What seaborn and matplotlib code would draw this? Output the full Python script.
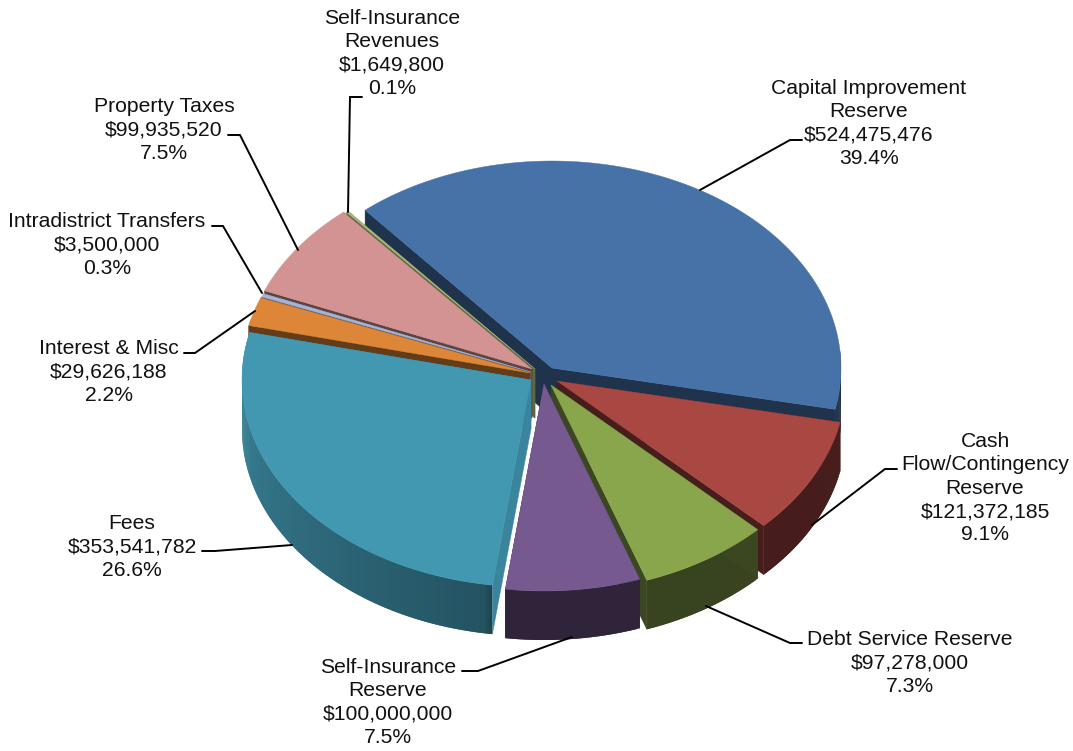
import numpy as np
import matplotlib
matplotlib.use("Agg")
import matplotlib.pyplot as plt
from matplotlib.patches import Polygon
import seaborn as sns

# data, clockwise from the top right slice
names = ["Capital Improvement\nReserve", "Cash\nFlow/Contingency\nReserve", "Debt Service Reserve",
         "Self-Insurance\nReserve", "Fees", "Interest & Misc", "Intradistrict Transfers",
         "Property Taxes", "Self-Insurance\nRevenues"]
amounts = [524475476, 121372185, 97278000, 100000000, 353541782, 29626188, 3500000, 99935520, 1649800]
percents = [39.4, 9.1, 7.3, 7.5, 26.6, 2.2, 0.3, 7.5, 0.1]

# colours of the top faces
top_colors = ["#4672A8", "#A94743", "#8AA64C", "#75598F", "#4297B1", "#DD8638", "#A5B4D4", "#D39393", "#A9BB7A"]

# layout, in pixels of the picture
start_angle = -40.3
rx, ry, depth = 289, 207, 49
apex_x = [552, 557, 551, 544, 531, 530, 531, 532, 535]
apex_y = [368, 381, 385, 384, 380, 373, 372, 369, 369]
cut_shade = [0.45, 0.42, 0.43, 0.40, 0.88, 0.45, 0.55, 0.45, 0.55]
draw_order = [0, 8, 7, 6, 5, 1, 2, 3, 4]
text_x = [869, 985, 910, 388, 132, 109, 107, 164, 392]
text_top = [79, 432, 630, 658, 514, 339, 212, 97, 9]
leaders = [[(700, 190), (790, 140), (802, 140)],
           [(812, 525), (885, 469), (897, 469)],
           [(706, 606), (790, 643), (802, 643)],
           [(572, 637), (478, 671), (462, 671)],
           [(292, 545), (215, 551), (202, 551)],
           [(255, 311), (195, 353), (184, 353)],
           [(262, 293), (223, 226), (212, 226)],
           [(298, 250), (240, 135), (228, 135)],
           [(348, 212), (350, 97), (362, 97)]]

sns.set_theme(style="white")
plt.rcParams['font.family'] = ['Liberation Sans', 'DejaVu Sans']
palette = sns.color_palette(top_colors)


def shade(color, k):
    return tuple(c * k for c in color)


def rim(cx, cy, theta):
    t = np.radians(theta)
    return cx + rx * np.sin(t), cy - ry * np.cos(t)


def wall_shade(theta):
    return np.interp(theta % 360, [90, 187, 189, 285], [0.42, 0.40, 0.55, 0.90])


fig = plt.figure(figsize=(10.73, 7.51), dpi=100)
ax = fig.add_axes([0, 0, 1, 1])
ax.set_xlim(0, 1073)
ax.set_ylim(751, 0)
ax.axis("off")

shares = np.array(amounts) / sum(amounts) * 360
edges = start_angle + np.concatenate([[0], np.cumsum(shares)])

z = 2
for i in draw_order:
    cx, cy = apex_x[i], apex_y[i]
    a0, a1 = edges[i], edges[i + 1]
    col = palette[i]
    cut = shade(col, cut_shade[i])

    # outer wall, only the front part shows; strips overlap so no seams
    w0, w1 = max(a0, 85), min(a1, 285)
    if w1 > w0:
        steps = np.linspace(w0, w1, max(3, int((w1 - w0) * 2)))
        for k in range(len(steps) - 1):
            s = np.linspace(steps[k], steps[min(k + 2, len(steps) - 1)], 4)
            x, y = rim(cx, cy, s)
            c = shade(col, wall_shade(steps[k]))
            pts = np.column_stack([np.r_[x, x[::-1]], np.r_[y, y[::-1] + depth]])
            ax.add_patch(Polygon(pts, fc=c, ec="none", zorder=z))
    # flat faces from the cuts
    for a in (a0, a1):
        x, y = rim(cx, cy, a)
        ax.add_patch(Polygon([(cx, cy), (x, y), (x, y + depth), (cx, cy + depth)],
                             fc=cut, ec=cut, lw=0.3, zorder=z + 0.2))
    # top face
    xs, ys = rim(cx, cy, np.linspace(a0, a1, 120))
    ax.add_patch(Polygon(np.column_stack([np.r_[cx, xs], np.r_[cy, ys]]),
                         fc=col, ec=col, lw=0.3, zorder=z + 0.5))
    z += 1

for pts in leaders:
    ax.plot(*zip(*pts), color="black", lw=1.4, zorder=50, solid_joinstyle="miter")

for name, amount, pct, x, y in zip(names, amounts, percents, text_x, text_top):
    ax.text(x, y, f"{name}\n${amount:,}\n{pct}%", ha="center", va="top",
            fontsize=15.2, color="#111111", linespacing=1.29, zorder=60)

fig.savefig("out.png", dpi=100)
